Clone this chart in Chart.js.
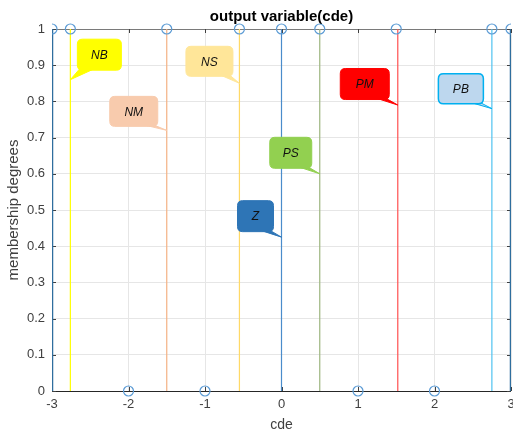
<!DOCTYPE html>
<html><head><meta charset="utf-8">
<script src="https://cdn.jsdelivr.net/npm/chart.js@4/dist/chart.umd.min.js"></script>
<style>html,body{margin:0;padding:0;background:#fff}canvas{display:block}</style>
</head><body>
<canvas id="c" width="513" height="434"></canvas>
<script>
// ---- data ----
const mfNames   = ['NB', 'NM', 'NS', 'Z', 'PS', 'PM', 'PB'];
const mfCenters = [-2.76, -1.5, -0.55, 0, 0.5, 1.52, 2.75];
const calloutY  = [0.86, 0.72, 0.85, 0.425, 0.60, 0.79, 0.78];
const markerX   = [-3, -2.76, -2, -1.5, -1, -0.55, 0, 0.5, 1, 1.5, 2, 2.75, 3];
const markerY   = [1, 1, 0, 1, 0, 1, 1, 1, 0, 1, 0, 1, 1];
const edgeX     = [-3, 3];
const xTicks    = [-3, -2, -1, 0, 1, 2, 3];
const yTicks    = [0, 0.1, 0.2, 0.3, 0.4, 0.5, 0.6, 0.7, 0.8, 0.9, 1];

// ---- styles ----
const lineColors = ['#FFFF00', '#F4B183', '#FFD966', '#4A8CCB', '#9DB57F', '#FF5050', '#4FC3F0'];
const boxStyles = [
  {fill:'#FFFF00', stroke:'#FFFF00', dx: 29, dy:-25, w:44, h:31, side:'right'},
  {fill:'#F8CBAD', stroke:'#F8CBAD', dx:-33, dy:-19, w:48, h:30, side:'left'},
  {fill:'#FFE699', stroke:'#FFE699', dx:-30, dy:-22, w:47, h:30, side:'left'},
  {fill:'#2E75B6', stroke:'#2E75B6', dx:-26, dy:-21, w:36, h:31, side:'left'},
  {fill:'#92D050', stroke:'#92D050', dx:-29, dy:-21, w:42, h:31, side:'left'},
  {fill:'#FF0000', stroke:'#FF0000', dx:-33, dy:-21, w:49, h:31, side:'left'},
  {fill:'#BDD7EE', stroke:'#00B0F0', dx:-31, dy:-20, w:45, h:30, side:'left'}
];

const datasets = [];
datasets.push({
  label: 'points',
  data: markerX.map((x, i) => ({x, y: markerY[i]})),
  showLine: false,
  pointStyle: 'circle',
  pointRadius: 5,
  pointBorderWidth: 1.2,
  pointBorderColor: '#5B9BD5',
  pointBackgroundColor: 'rgba(0,0,0,0)',
  clip: {left: 0, right: 0, top: 10, bottom: 10}
});
mfCenters.forEach((c, i) => {
  datasets.push({
    label: mfNames[i],
    data: [{x: c, y: 0}, {x: c, y: 1}],
    showLine: true,
    borderColor: lineColors[i],
    borderWidth: 1.2,
    pointRadius: 0
  });
});
edgeX.forEach(x => {
  datasets.push({
    label: 'edge',
    data: [{x, y: 0}, {x, y: 1}],
    showLine: true,
    borderColor: '#2F6E9E',
    borderWidth: 2.5,
    pointRadius: 0
  });
});

const framePlugin = {
  id: 'frame',
  beforeDatasetsDraw(chart) {
    const {ctx, chartArea: a, scales: {x, y}} = chart;
    ctx.save();
    ctx.strokeStyle = '#262626';
    ctx.lineWidth = 1;
    ctx.beginPath();
    ctx.moveTo(a.left, Math.round(a.bottom) + 0.5); ctx.lineTo(a.right, Math.round(a.bottom) + 0.5);
    ctx.stroke();
    ctx.strokeStyle = '#7a7a7a';
    ctx.beginPath();
    ctx.moveTo(a.left, Math.round(a.top) + 0.5); ctx.lineTo(a.right, Math.round(a.top) + 0.5);
    ctx.moveTo(Math.round(a.right) - 0.5, a.top); ctx.lineTo(Math.round(a.right) - 0.5, a.bottom);
    ctx.stroke();
    ctx.strokeStyle = '#404040';
    ctx.beginPath();
    xTicks.forEach(v => {
      const px = Math.round(x.getPixelForValue(v)) + 0.5;
      ctx.moveTo(px, a.top); ctx.lineTo(px, a.top + 4);
      ctx.moveTo(px, a.bottom); ctx.lineTo(px, a.bottom - 4);
    });
    yTicks.forEach(v => {
      const py = Math.round(y.getPixelForValue(v)) + 0.5;
      ctx.moveTo(a.left, py); ctx.lineTo(a.left + 4, py);
      ctx.moveTo(a.right, py); ctx.lineTo(a.right - 4, py);
    });
    ctx.stroke();
    ctx.restore();
  }
};

function roundRect(ctx, x, y, w, h, r) {
  ctx.beginPath();
  ctx.moveTo(x + r, y);
  ctx.lineTo(x + w - r, y); ctx.quadraticCurveTo(x + w, y, x + w, y + r);
  ctx.lineTo(x + w, y + h - r); ctx.quadraticCurveTo(x + w, y + h, x + w - r, y + h);
  ctx.lineTo(x + r, y + h); ctx.quadraticCurveTo(x, y + h, x, y + h - r);
  ctx.lineTo(x, y + r); ctx.quadraticCurveTo(x, y, x + r, y);
  ctx.closePath();
}

const calloutPlugin = {
  id: 'callouts',
  afterDatasetsDraw(chart) {
    const {ctx, scales: {x, y}} = chart;
    ctx.save();
    mfNames.forEach((name, i) => {
      const s = boxStyles[i];
      const tx = x.getPixelForValue(mfCenters[i]);
      const ty = y.getPixelForValue(calloutY[i]);
      const cx = tx + s.dx, cy = ty + s.dy;
      const bx = cx - s.w / 2, by = cy - s.h / 2;
      const bottom = by + s.h;
      ctx.beginPath();
      if (s.side === 'right') {
        ctx.moveTo(bx + 2, bottom - 1);
        ctx.lineTo(bx + 16, bottom - 1);
      } else {
        ctx.moveTo(bx + s.w - 12, bottom - 1);
        ctx.lineTo(bx + s.w - 3, bottom - 1);
      }
      ctx.lineTo(tx, ty);
      ctx.closePath();
      ctx.fillStyle = s.fill;
      ctx.fill();
      ctx.strokeStyle = s.stroke;
      ctx.lineWidth = 1;
      ctx.stroke();
      roundRect(ctx, bx, by, s.w, s.h, 5);
      ctx.fillStyle = s.fill;
      ctx.fill();
      ctx.lineWidth = s.stroke === s.fill ? 1 : 1.5;
      ctx.strokeStyle = s.stroke;
      ctx.stroke();
      ctx.fillStyle = '#111';
      ctx.font = 'italic 12px "Liberation Sans", Arial, sans-serif';
      ctx.textAlign = 'center';
      ctx.textBaseline = 'middle';
      ctx.fillText(name, cx, cy + 1);
    });
    ctx.restore();
  }
};

const FONT = '"Liberation Sans", Arial, sans-serif';
new Chart(document.getElementById('c'), {
  type: 'scatter',
  data: {datasets},
  plugins: [framePlugin, calloutPlugin],
  options: {
    responsive: false,
    animation: false,
    layout: {autoPadding: false, padding: {left: 0, right: 2, top: 0, bottom: 0}},
    plugins: {
      legend: {display: false},
      tooltip: {enabled: false},
      title: {
        display: true,
        fullSize: false,
        text: 'output variable(cde)',
        color: '#000',
        font: {family: FONT, size: 15, weight: 'bold'},
        padding: {top: 8, bottom: 3}
      }
    },
    scales: {
      x: {
        type: 'linear', min: -3, max: 3,
        afterBuildTicks(s) { s.ticks = xTicks.map(v => ({value: v})); },
        afterFit(s) { s.height = 43; s.paddingLeft = 0; s.paddingRight = 0; },
        ticks: {color: '#404040', font: {family: FONT, size: 13}, padding: 6, maxRotation: 0},
        grid: {color: '#E6E6E6', drawTicks: false},
        border: {display: false},
        title: {display: true, text: 'cde', color: '#404040', font: {family: FONT, size: 14}, padding: 0}
      },
      y: {
        type: 'linear', min: 0, max: 1,
        afterBuildTicks(s) { s.ticks = yTicks.map(v => ({value: v})); },
        afterFit(s) { s.width = 52; s.paddingTop = 0; s.paddingBottom = 0; },
        ticks: {color: '#404040', font: {family: FONT, size: 13}, padding: 7,
          callback: v => String(Math.round(v * 10) / 10)},
        grid: {color: '#E6E6E6', drawTicks: false},
        border: {display: false},
        title: {display: true, text: 'membership degrees', color: '#404040', font: {family: FONT, size: 15}, padding: {top: 5, bottom: 0}}
      }
    }
  }
});
</script>
</body></html>
